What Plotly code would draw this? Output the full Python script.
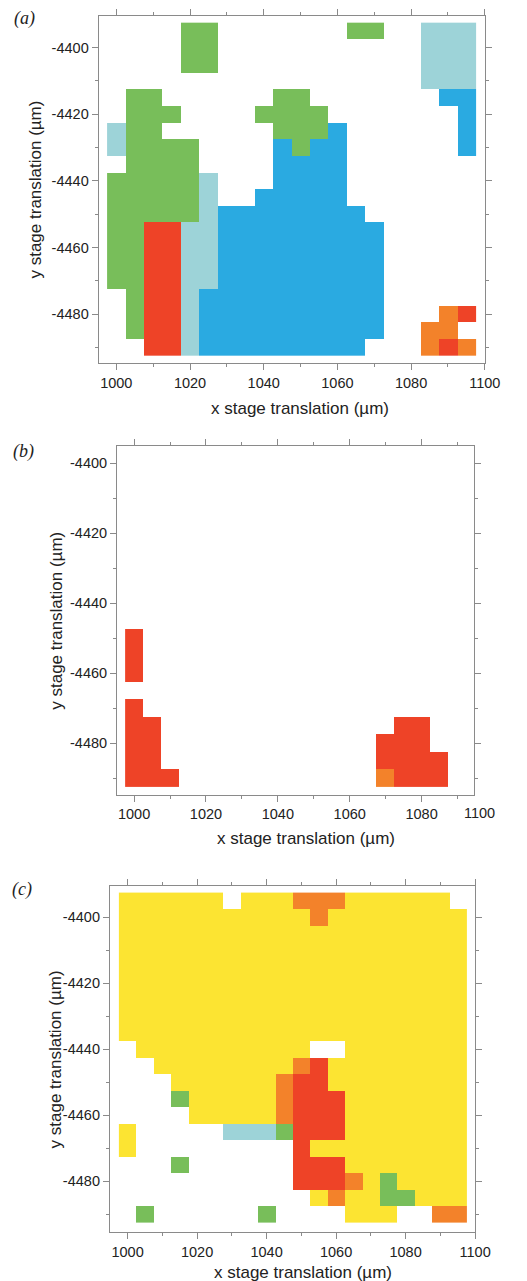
import plotly.graph_objects as go

# ---------------- data ----------------
x_um = [1000, 1005, 1010, 1015, 1020, 1025, 1030, 1035, 1040, 1045,
        1050, 1055, 1060, 1065, 1070, 1075, 1080, 1085, 1090, 1095]
y_um = [-4395, -4400, -4405, -4410, -4415, -4420, -4425, -4430, -4435, -4440,
        -4445, -4450, -4455, -4460, -4465, -4470, -4475, -4480, -4485, -4490]

# phase codes: g green, l light blue, b blue, r red, o orange, y yellow, . none
phase_codes = ["g", "l", "b", "r", "o", "y"]
phase_colors = ["#78BE5A", "#9DD3D8", "#2AAAE1", "#EE4327", "#F3822A", "#FCE432"]

map_a = [
    "....gg.......gg..lll",
    "....gg...........lll",
    "....gg...........lll",
    ".................lll",
    ".gg......gg.......bb",
    ".ggg....gggg.......b",
    "lgg......gggb......b",
    "lgggg....bgbb......b",
    ".gggg....bbbb.......",
    "gggggl...bbbb.......",
    "gggggl..bbbbb.......",
    "ggggglbbbbbbbb......",
    "ggrrllbbbbbbbbb.....",
    "ggrrllbbbbbbbbb.....",
    "ggrrllbbbbbbbbb.....",
    "ggrrllbbbbbbbbb.....",
    ".grrlbbbbbbbbbb.....",
    ".grrlbbbbbbbbbb...or",
    ".grrlbbbbbbbbbb..oo.",
    "..rrlbbbbbbbbb...oro",
]

map_b = [
    "....................",
    "....................",
    "....................",
    "....................",
    "....................",
    "....................",
    "....................",
    "....................",
    "....................",
    "....................",
    "....................",
    "r...................",
    "r...................",
    "r...................",
    "....................",
    "r...................",
    "rr.............rr...",
    "rr............rrr...",
    "rr............rrrr..",
    "rrr...........orrr..",
]

map_c = [
    "yyyyyy.yyyoooyyyyyy.",
    "yyyyyyyyyyyoyyyyyyyy",
    "yyyyyyyyyyyyyyyyyyyy",
    "yyyyyyyyyyyyyyyyyyyy",
    "yyyyyyyyyyyyyyyyyyyy",
    "yyyyyyyyyyyyyyyyyyyy",
    "yyyyyyyyyyyyyyyyyyyy",
    "yyyyyyyyyyyyyyyyyyyy",
    "yyyyyyyyyyyyyyyyyyyy",
    ".yyyyyyyyyy..yyyyyyy",
    "..yyyyyyyyoryyyyyyyy",
    "...yyyyyyorryyyyyyyy",
    "...gyyyyyorrryyyyyyy",
    "....yyyyyorrryyyyyyy",
    "y.....lllgrrryyyyyyy",
    "y.........ryyyyyyyyy",
    "...g......rrryyyyyyy",
    "..........rrroygyyyy",
    "...........yoyyggyyy",
    ".g......g....yyy..oo",
]

x_tickvals = [1000, 1020, 1040, 1060, 1080, 1100]
x_ticktext = ["1000", "1020", "1040", "1060", "1080", "1100"]
x_minorvals = [1010, 1030, 1050, 1070, 1090]
y_tickvals = [-4400, -4420, -4440, -4460, -4480]
y_ticktext = ["-4400", "-4420", "-4440", "-4460", "-4480"]
y_minorvals = [-4390, -4410, -4430, -4450, -4470, -4490]

panel_labels = ["(a)", "(b)", "(c)"]
x_title = "x stage translation (\u00b5m)"
y_title = "y stage translation (\u00b5m)"

# ---------------- layout constants (pixels) ----------------
W, H = 527, 1281
boxes = [
    dict(l=101.7, r=500.0, t=16.0, b=363.3, xr=[995.2, 1100.0], yr=[-4494.7, -4390.5]),
    dict(l=120.7, r=489.3, t=446.0, b=795.0, xr=[995.25, 1094.7], yr=[-4494.8, -4395.1]),
    dict(l=113.3, r=490.0, t=886.0, b=1232.3, xr=[994.9, 1100.0], yr=[-4495.5, -4390.5]),
]
xtitle_pos = [(309, 408), (316, 839), (312.5, 1272)]
ytitle_x = [37, 58, 57]
label_pos = [(25, 18), (24, 452), (23, 889)]

FRAME = "#8a8a8a"
TEXT = "#222222"
SANS = "Liberation Sans, Arial, sans-serif"


def to_z(grid):
    z = []
    for row in grid:
        z.append([phase_codes.index(ch) if ch in phase_codes else None for ch in row])
    return z


n = len(phase_colors)
colorscale = []
for k, c in enumerate(phase_colors):
    colorscale.append([k / n, c])
    colorscale.append([(k + 1) / n, c])

fig = go.Figure()
maps = [map_a, map_b, map_c]
for p, grid in enumerate(maps):
    sfx = "" if p == 0 else str(p + 1)
    fig.add_trace(go.Heatmap(
        x=x_um, y=y_um, z=to_z(grid),
        colorscale=colorscale, zmin=-0.5, zmax=n - 0.5,
        showscale=False, hoverongaps=False,
        xaxis="x" + sfx, yaxis="y" + sfx,
    ))

annotations = []
for p, bx in enumerate(boxes):
    sfx = "" if p == 0 else str(p + 1)
    xdom = [bx["l"] / W, bx["r"] / W]
    ydom = [1 - bx["b"] / H, 1 - bx["t"] / H]
    common = dict(
        showline=True, linecolor=FRAME, linewidth=1, mirror="ticks",
        ticks="outside", ticklen=6, tickwidth=1, tickcolor=FRAME,
        showgrid=False, zeroline=False,
        tickfont=dict(family=SANS, size=14.5, color=TEXT),
    )
    fig.update_layout(**{
        "xaxis" + sfx: dict(
            domain=xdom, range=bx["xr"], anchor="y" + sfx,
            tickmode="array", tickvals=x_tickvals, ticktext=x_ticktext,
            minor=dict(tickmode="array", tickvals=x_minorvals, ticks="outside",
                       ticklen=3, tickcolor=FRAME, showgrid=False),
            **common),
        "yaxis" + sfx: dict(
            domain=ydom, range=bx["yr"], anchor="x" + sfx,
            tickmode="array", tickvals=y_tickvals, ticktext=y_ticktext,
            minor=dict(tickmode="array", tickvals=y_minorvals, ticks="outside",
                       ticklen=3, tickcolor=FRAME, showgrid=False),
            **common),
    })
    tx, ty = xtitle_pos[p]
    annotations.append(dict(text=x_title, xref="paper", yref="paper",
                            x=tx / W, y=1 - ty / H, xanchor="center", yanchor="middle",
                            showarrow=False, font=dict(family=SANS, size=17, color=TEXT)))
    annotations.append(dict(text=y_title, xref="paper", yref="paper",
                            x=ytitle_x[p] / W, y=1 - (bx["t"] + bx["b"]) / 2 / H,
                            xanchor="center", yanchor="middle", textangle=-90,
                            showarrow=False, font=dict(family=SANS, size=17, color=TEXT)))
    lx, ly = label_pos[p]
    annotations.append(dict(text="<i>" + panel_labels[p] + "</i>", xref="paper", yref="paper",
                            x=lx / W, y=1 - ly / H, xanchor="center", yanchor="middle",
                            showarrow=False,
                            font=dict(family="Liberation Serif, Times New Roman, serif",
                                      size=18, color=TEXT)))

# panel (b): the "1100" label sits at the frame edge, beyond the axis range
annotations.append(dict(text=x_ticktext[-1], xref="paper", yref="paper",
                        x=495 / W, y=1 - 813 / H, xanchor="center", yanchor="middle",
                        showarrow=False, font=dict(family=SANS, size=14.5, color=TEXT)))

fig.update_layout(
    width=W, height=H,
    margin=dict(l=0, r=0, t=0, b=0),
    paper_bgcolor="white", plot_bgcolor="white",
    showlegend=False,
    annotations=annotations,
)

fig.write_html("out.html")
